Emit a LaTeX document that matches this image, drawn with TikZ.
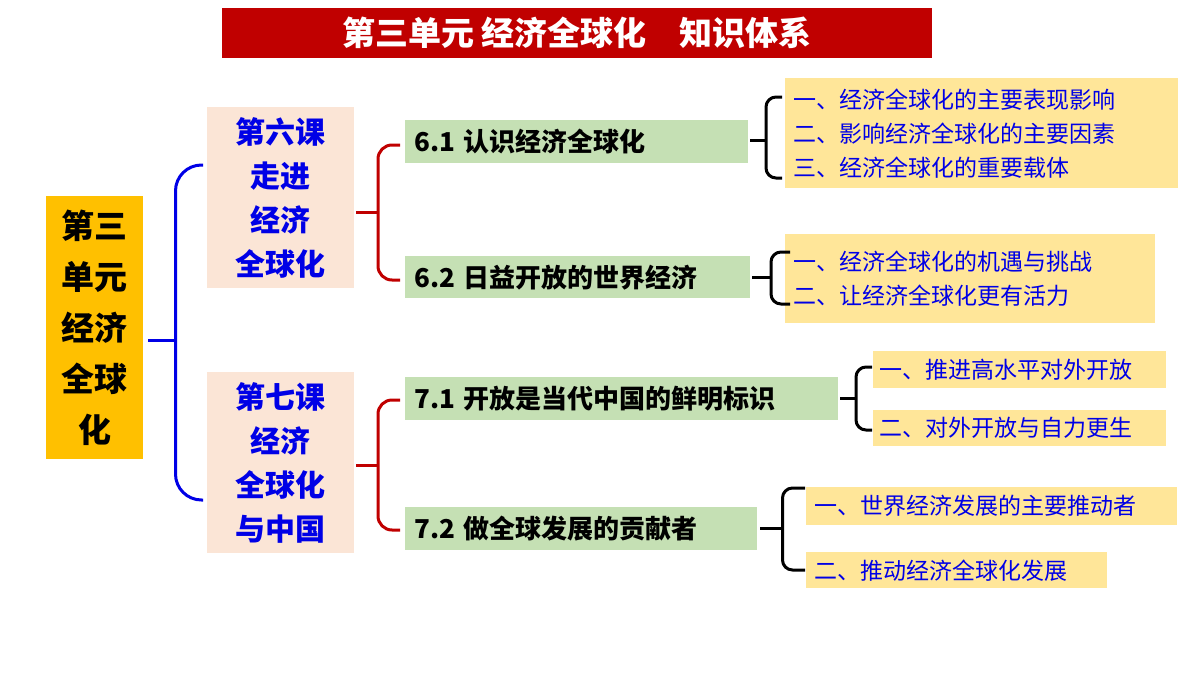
\documentclass[tikz,border=0pt]{standalone}
\usepackage{fontspec}
\setmainfont{Noto Sans CJK SC}
\definecolor{tred}{RGB}{192,0,0}
\definecolor{gold}{RGB}{255,192,0}
\definecolor{peach}{RGB}{251,229,214}
\definecolor{lgreen}{RGB}{197,224,180}
\definecolor{lyel}{RGB}{255,230,153}
\definecolor{bblue}{RGB}{0,0,230}
\tikzset{
 box/.style={inner sep=0pt,anchor=north west},
 lesson/.style={box,fill=peach,text=bblue,font=\fontsize{30}{44}\selectfont\bfseries,align=center},
 topic/.style={box,fill=lgreen,font=\fontsize{26}{28}\selectfont\bfseries,align=left},
 item/.style={box,fill=lyel,text=bblue,font=\fontsize{23}{34}\selectfont,align=left},
}
\newcommand{\mybr}[7]{\draw[#6,line width=3pt,rounded corners=#7] (#3,#4) -- ({(#1+#3)/2},#4) -- ({(#1+#3)/2},#5) -- (#3,#5);
 \draw[#6,line width=3pt] (#1,#2) -- ({(#1+#3)/2},#2);}
\begin{document}
\begin{tikzpicture}[x=1pt,y=-1pt]
\useasboundingbox (0,0) rectangle (1200,675);
\node[box,fill=tred,minimum width=710,minimum height=50,text=white,font=\fontsize{33}{36}\selectfont\bfseries] (title) at (222,8) {第三单元 经济全球化\quad 知识体系};
\node[box,fill=gold,minimum width=97,minimum height=263,font=\fontsize{33}{51}\selectfont\bfseries,align=center] (unit) at (46,196) {第三\\单元\\经济\\全球\\化};
\node[lesson,minimum width=147,minimum height=181] (l6) at (207,107) {第六课\\走进\\经济\\全球化};
\node[lesson,minimum width=147,minimum height=181] (l7) at (207,372) {第七课\\经济\\全球化\\与中国};
\node[topic,minimum width=343,minimum height=43,text width=333] (t61) at (405,120) {\hspace*{4pt}6.1 认识经济全球化};
\node[topic,minimum width=345,minimum height=42,text width=335] (t62) at (405,256) {\hspace*{4pt}6.2 日益开放的世界经济};
\node[topic,minimum width=433,minimum height=43,text width=423] (t71) at (405,377) {\hspace*{4pt}7.1 开放是当代中国的鲜明标识};
\node[topic,minimum width=352,minimum height=43,text width=342] (t72) at (405,507) {\hspace*{4pt}7.2 做全球发展的贡献者};
\node[item,minimum width=393,minimum height=110,text width=393] (i1) at (785,78) {\hspace*{8pt}一、经济全球化的主要表现影响\\\hspace*{8pt}二、影响经济全球化的主要因素\\\hspace*{8pt}三、经济全球化的重要载体};
\node[item,minimum width=370,minimum height=89,text width=370] (i2) at (785,234) {\hspace*{8pt}一、经济全球化的机遇与挑战\\\hspace*{8pt}二、让经济全球化更有活力};
\node[item,minimum width=293,minimum height=37,text width=293] (i3) at (873,351) {\hspace*{6pt}一、推进高水平对外开放};
\node[item,minimum width=293,minimum height=36,text width=293] (i4) at (873,410) {\hspace*{6pt}二、对外开放与自力更生};
\node[item,minimum width=371,minimum height=38,text width=371] (i5) at (806,487) {\hspace*{8pt}一、世界经济发展的主要推动者};
\node[item,minimum width=301,minimum height=36,text width=301] (i6) at (806,552) {\hspace*{8pt}二、推动经济全球化发展};
\mybr{148}{340}{203}{165}{500}{bblue}{26pt}
\mybr{356}{212}{400}{145}{280}{tred}{14pt}
\mybr{356}{465}{400}{400}{530}{tred}{14pt}
\mybr{750}{140}{782}{97}{178}{black}{10pt}
\mybr{752}{277}{790}{252}{304}{black}{10pt}
\mybr{840}{398}{872}{367}{430}{black}{10pt}
\mybr{760}{528}{805}{488}{570}{black}{10pt}
\end{tikzpicture}
\end{document}
